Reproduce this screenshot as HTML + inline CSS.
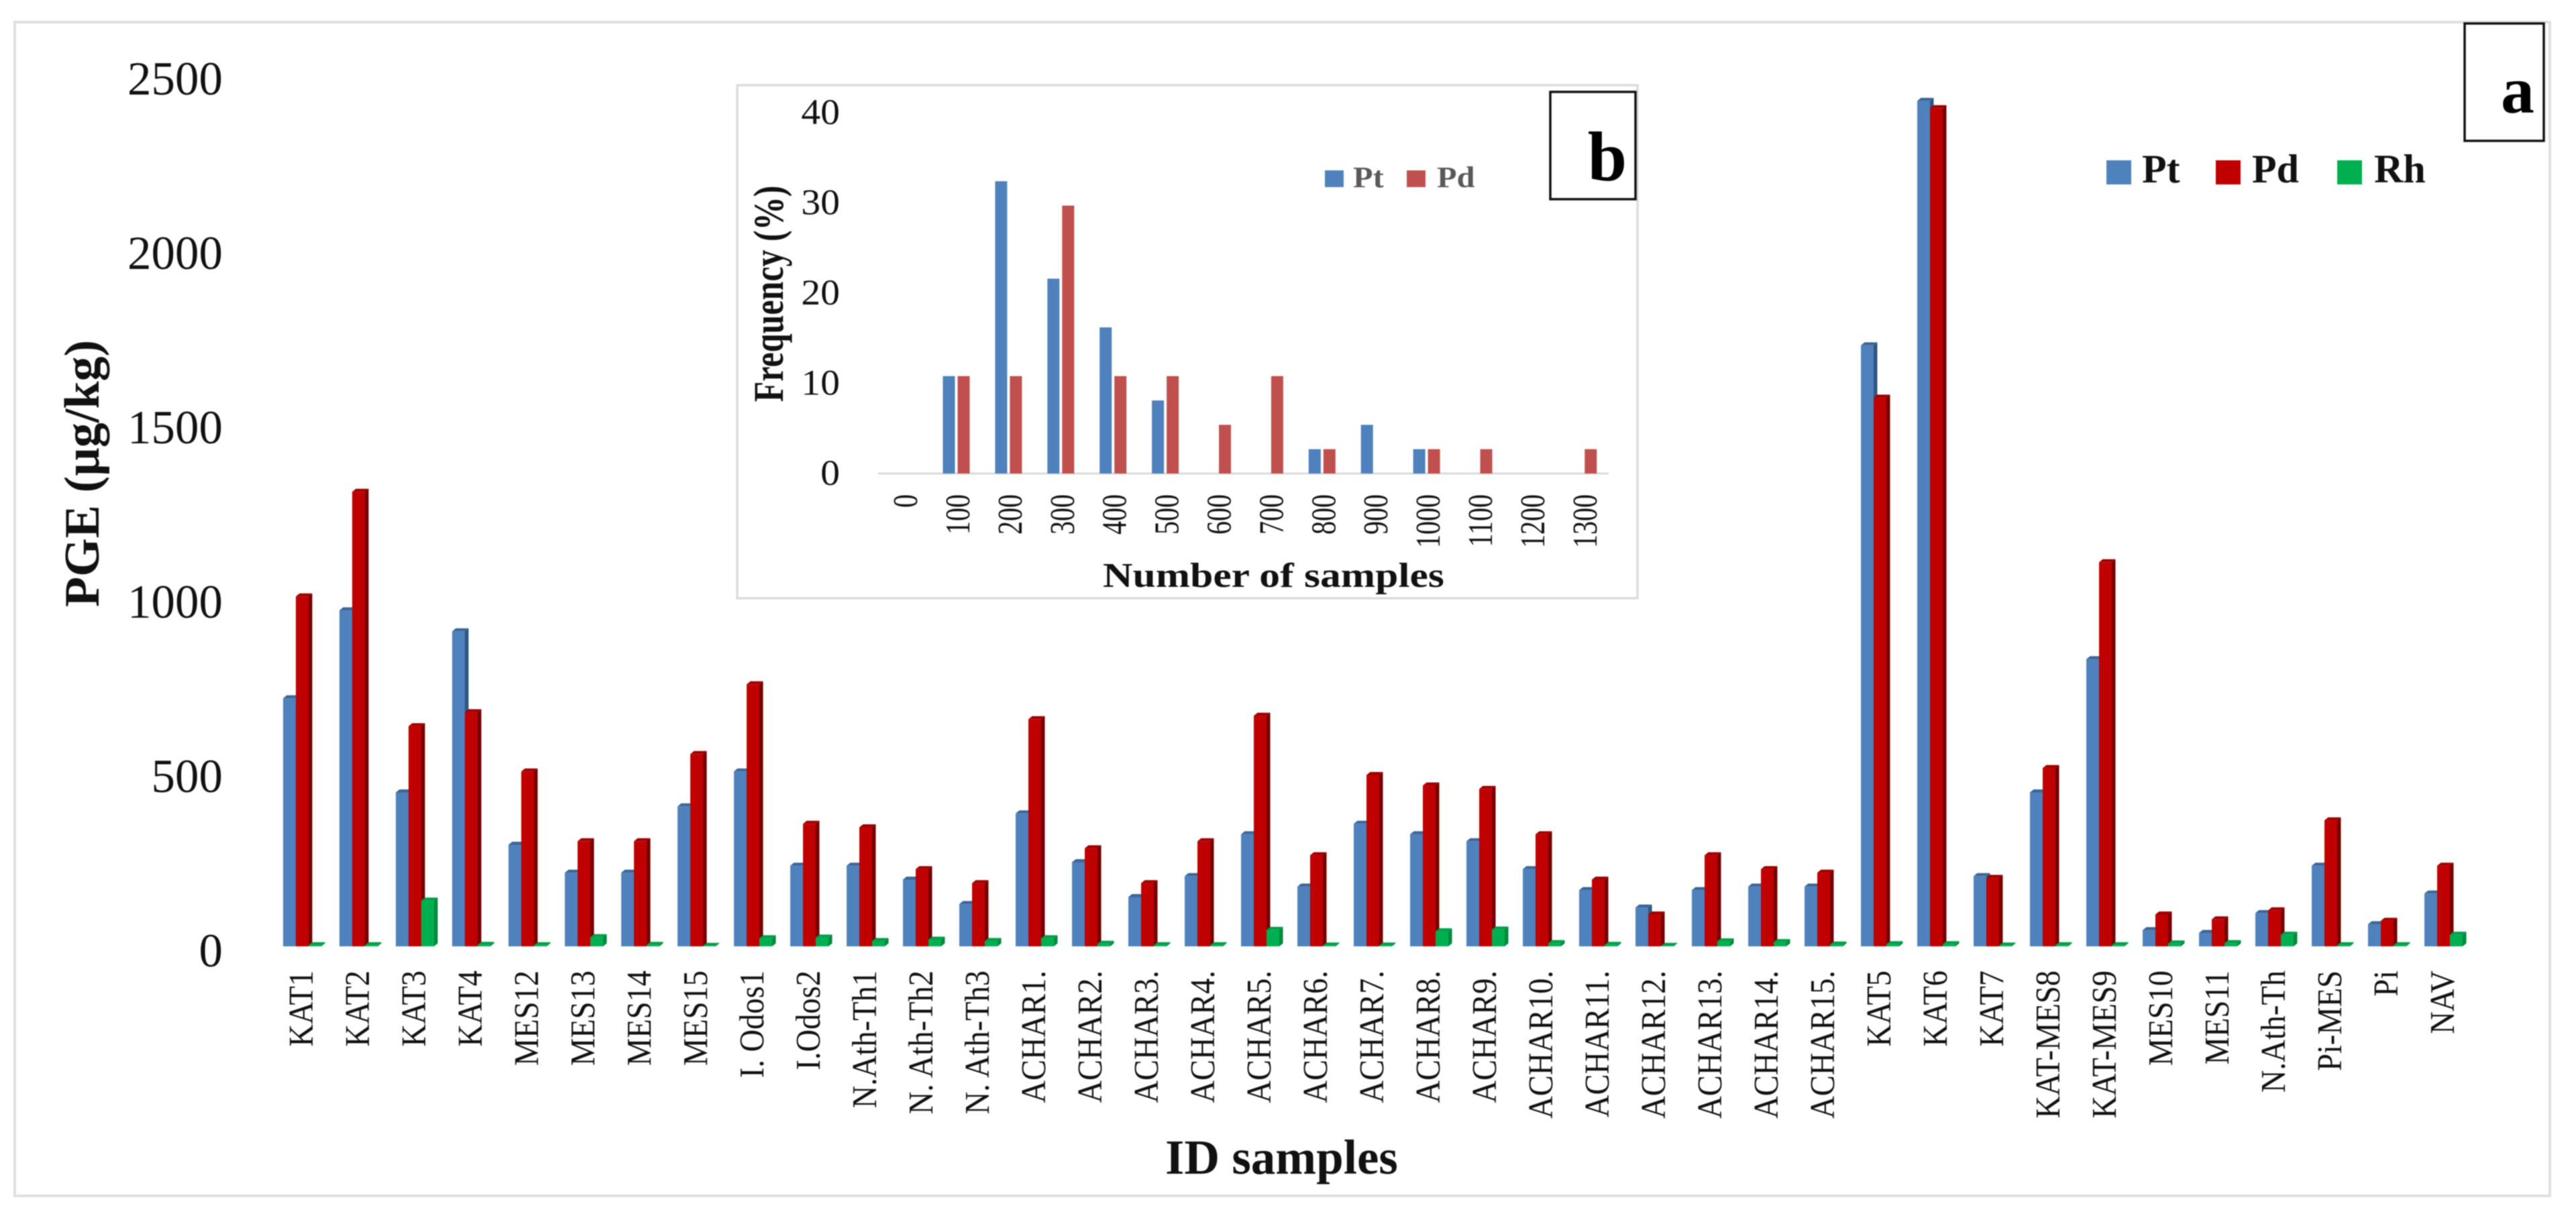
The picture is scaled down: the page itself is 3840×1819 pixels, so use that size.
<!DOCTYPE html>
<html lang="en">
<head>
<meta charset="utf-8">
<title>PGE concentrations by sample</title>
<style>
html,body{margin:0;padding:0;background:#fff;width:3840px;height:1819px;overflow:hidden}
svg{display:block;filter:blur(0.8px)}
text{font-family:"Liberation Serif","DejaVu Serif",serif;fill:#111}
.b{font-weight:bold}
</style>
</head>
<body>
<svg id="chart" xmlns="http://www.w3.org/2000/svg" width="3840" height="1819" viewBox="0 0 3840 1819">
  <rect x="22" y="33" width="3779" height="1750" fill="#fff" stroke="#e0e0e0" stroke-width="4"/>
  <g id="main-bars"></g>
  <g id="main-yticks"></g>
  <g id="main-xticks"></g>
  <text class="b" font-size="74" text-anchor="middle" transform="translate(147,706) rotate(-90)">PGE (µg/kg)</text>
  <text class="b" font-size="73" x="1737" y="1750">ID samples</text>

  <g>
    <rect x="3674" y="35" width="118" height="175" fill="#fff" stroke="#111" stroke-width="3.5"/>
    <text class="b" font-size="100" text-anchor="middle" x="3753" y="168" style="fill:#000">a</text>
  </g>
  <g>
    <rect x="3140" y="239" width="37" height="36" fill="#4F81BD"/>
    <text class="b" font-size="60" x="3193" y="272">Pt</text>
    <rect x="3303" y="239" width="37" height="36" fill="#C00000"/>
    <text class="b" font-size="60" x="3357" y="272">Pd</text>
    <rect x="3484" y="239" width="37" height="36" fill="#00B050"/>
    <text class="b" font-size="60" x="3539" y="272">Rh</text>
  </g>

  <g>
    <rect x="1099" y="127" width="1342" height="765" fill="#fff" stroke="#dcdcdc" stroke-width="3.5"/>
    <line x1="1309" y1="706" x2="2398" y2="706" stroke="#dadada" stroke-width="3"/>
    <g id="inset-bars"></g>
    <g id="inset-yticks"></g>
    <g id="inset-xticks"></g>
    <text class="b" font-size="50" text-anchor="middle" transform="translate(1167,438) rotate(-90) scale(1,1.27)">Frequency (%)</text>
    <text class="b" font-size="52" transform="translate(1644,875) scale(1.185,1)">Number of samples</text>
    <g>
      <rect x="1975" y="254" width="28" height="25" fill="#4F81BD"/>
      <text class="b" font-size="44" transform="translate(2017,279) scale(1.1,1)" style="fill:#595959">Pt</text>
      <rect x="2097" y="254" width="28" height="25" fill="#C0504D"/>
      <text class="b" font-size="44" transform="translate(2142,279) scale(1.1,1)" style="fill:#595959">Pd</text>
    </g>
    <rect x="2311" y="137" width="127" height="160" fill="#fff" stroke="#111" stroke-width="3.5"/>
    <text class="b" font-size="105" text-anchor="middle" x="2396" y="269" style="fill:#000">b</text>
  </g>
</svg>
<script>
const sampleNames = ["KAT1","KAT2","KAT3","KAT4","MES12","MES13","MES14","MES15","I. Odos1","I.Odos2","N.Ath-Th1","N. Ath-Th2","N. Ath-Th3","ACHAR1.","ACHAR2.","ACHAR3.","ACHAR4.","ACHAR5.","ACHAR6.","ACHAR7.","ACHAR8.","ACHAR9.","ACHAR10.","ACHAR11.","ACHAR12.","ACHAR13.","ACHAR14.","ACHAR15.","KAT5","KAT6","KAT7","KAT-MES8","KAT-MES9","MES10","MES11","N.Ath-Th","Pi-MES","Pi","NAV"];
const ptValues = [720,972,450,912,300,220,220,410,510,240,240,200,130,390,250,150,210,330,180,360,330,310,230,170,120,170,180,180,1732,2433,210,450,832,55,47,104,240,72,160];
const pdValues = [1012,1312,640,680,510,310,310,560,760,360,350,230,190,660,290,190,310,670,270,500,470,460,330,200,100,270,230,220,1582,2412,205,520,1110,100,86,112,370,82,240];
const rhValues = [12,12,140,13,12,35,13,10,32,34,24,28,24,32,16,12,12,56,11,11,52,57,18,13,10,23,21,14,15,15,11,12,12,17,18,42,12,12,42];
const mainTickLabels = [0,500,1000,1500,2000,2500];

const insetCategories = ["0","100","200","300","400","500","600","700","800","900","1000","1100","1200","1300"];
const insetPt = [0,10.8,32.4,21.6,16.2,8.1,0,0,2.7,5.4,2.7,0,0,0];
const insetPd = [0,10.8,10.8,29.7,10.8,10.8,5.4,10.8,2.7,0,2.7,2.7,0,2.7];
const insetTickLabels = [0,10,20,30,40];

const NS = "http://www.w3.org/2000/svg";
function mk(tag, attrs, parent) {
  const el = document.createElementNS(NS, tag);
  for (const k in attrs) el.setAttribute(k, attrs[k]);
  parent.appendChild(el);
  return el;
}

/* main chart axis functions */
const mainY = v => 1411 - 0.52 * v;
const mainX = i => 422 + 84 * i;
const FRONT = 19, DX = 5.5, DY = 4.5;

const seriesStyles = {
  pt: {front:"#4F81BD", side:"#2F5580", cap:"#3C6698", off:0},
  pd: {front:"#C00000", side:"#760000", cap:"#A00000", off:19},
  rh: {front:"#00B050", side:"#008A3C", cap:"#00A049", off:38}
};

function drawBar3d(parent, key, i, v) {
  const s = seriesStyles[key];
  const x = mainX(i) + s.off;
  const top = mainY(v);
  const base = mainY(0);
  const ft = Math.min(top + DY, base);
  const g = mk("g", {}, parent);
  
  
  mk("polygon", {points:[x+FRONT,ft, x+FRONT+DX,top, x+FRONT+DX,base-DY, x+FRONT,base].join(" "), fill:s.side}, g);
  mk("polygon", {points:[x,ft, x+DX,top, x+FRONT+DX,top, x+FRONT,ft].join(" "), fill:s.cap}, g);
  mk("rect", {x:x, y:ft, width:FRONT, height:Math.max(0, base-ft), fill:s.front}, g);
}

const mainBars = document.getElementById("main-bars");
sampleNames.forEach((name, i) => {
  drawBar3d(mainBars, "pt", i, ptValues[i]);
  drawBar3d(mainBars, "pd", i, pdValues[i]);
  drawBar3d(mainBars, "rh", i, rhValues[i]);
});

const mainYTicks = document.getElementById("main-yticks");
mainTickLabels.forEach(v => {
  const t = mk("text", {x:332, y:mainY(v)+30, "font-size":71, "text-anchor":"end"}, mainYTicks);
  
  
  t.textContent = v;
});

const mainXTicks = document.getElementById("main-xticks");
sampleNames.forEach((name, i) => {
  const t = mk("text", {"font-size":46.5, "text-anchor":"end", transform:"translate(" + (mainX(i)+44) + ",1447) rotate(-90) scale(1,1.12)"}, mainXTicks);
  
  
  t.textContent = name;
});

/* inset chart axis functions */
const insetY = v => 706 - 13.45 * v;
const insetX = i => 1347.6 + 77.9 * i;

const insetBars = document.getElementById("inset-bars");
insetCategories.forEach((c, i) => {
  if (insetPt[i] > 0) {
    const r = mk("rect", {x:insetX(i)-20, y:insetY(insetPt[i]), width:18, height:insetY(0)-insetY(insetPt[i]), fill:"#4F81BD"}, insetBars);
    
    
  }
  if (insetPd[i] > 0) {
    const r = mk("rect", {x:insetX(i)+2, y:insetY(insetPd[i]), width:18, height:insetY(0)-insetY(insetPd[i]), fill:"#C0504D"}, insetBars);
    
    
  }
});

const insetYTicks = document.getElementById("inset-yticks");
insetTickLabels.forEach(v => {
  const t = mk("text", {"font-size":54, "text-anchor":"end", transform:"translate(1252," + (insetY(v)+17) + ") scale(1.07,1)"}, insetYTicks);
  
  
  t.textContent = v;
});

const insetXTicks = document.getElementById("inset-xticks");
insetCategories.forEach((c, i) => {
  const t = mk("text", {"font-size":40, "text-anchor":"end", transform:"translate(" + (insetX(i)+19.5) + ",737) rotate(-90) scale(1,1.3)"}, insetXTicks);
  
  
  t.textContent = c;
});
</script>
</body>
</html>
